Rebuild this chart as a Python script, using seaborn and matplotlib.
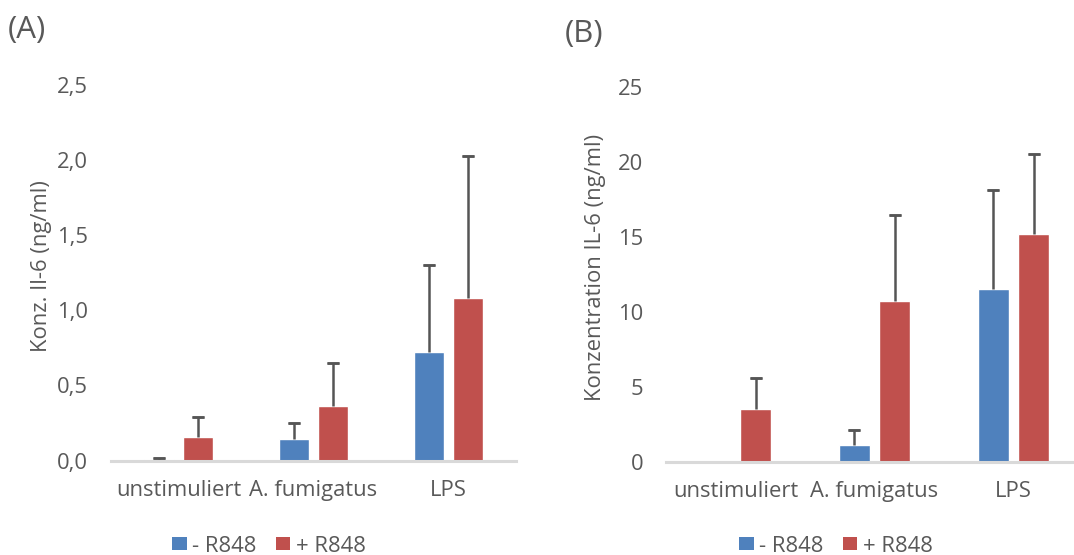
import matplotlib
matplotlib.use("Agg")
import matplotlib.pyplot as plt
from matplotlib.patches import Patch
import seaborn as sns
import pandas as pd

# IL-6 concentrations (mean and upper SD) per stimulus, without / with R848
categories = ["unstimuliert", "A. fumigatus", "LPS"]
groups = ["- R848", "+ R848"]

# Panel A: Konz. Il-6 (ng/ml)
a_minus = [0.01, 0.143, 0.723]
a_minus_err = [0.006, 0.107, 0.58]
a_plus = [0.157, 0.363, 1.083]
a_plus_err = [0.133, 0.287, 0.947]
a_ticks = [0.0, 0.5, 1.0, 1.5, 2.0, 2.5]
a_ticklabels = ["0,0", "0,5", "1,0", "1,5", "2,0", "2,5"]

# Panel B: Konzentration IL-6 (ng/ml)
b_minus = [0.0, 1.13, 11.56]
b_minus_err = [0.0, 1.0, 6.55]
b_plus = [3.54, 10.73, 15.19]
b_plus_err = [2.05, 5.71, 5.33]
b_ticks = [0, 5, 10, 15, 20, 25]
b_ticklabels = ["0", "5", "10", "15", "20", "25"]

BLUE = "#4F81BD"
RED = "#C0504D"
TEXT = "#595959"
ERR = "#555555"
AXIS = "#D9D9D9"

sns.set_theme(style="white")
plt.rcParams["font.family"] = ["Open Sans", "DejaVu Sans"]
plt.rcParams["text.color"] = TEXT
plt.rcParams["axes.labelcolor"] = TEXT
plt.rcParams["xtick.color"] = TEXT
plt.rcParams["ytick.color"] = TEXT

FS = 15.8
W, H = 1074, 555
fig = plt.figure(figsize=(W / 100, H / 100), dpi=100)


def frame(minus, minus_err, plus, plus_err):
    df = pd.DataFrame({
        "Stimulus": categories * 2,
        "R848": [groups[0]] * 3 + [groups[1]] * 3,
        "IL6": list(minus) + list(plus),
    })
    return df, [minus_err, plus_err]


def panel(rect, minus, minus_err, plus, plus_err, ticks, ticklabels, ylabel, label_xy):
    ax = fig.add_axes(rect)
    df, errs = frame(minus, minus_err, plus, plus_err)
    sns.barplot(data=df, x="Stimulus", y="IL6", hue="R848", order=categories,
                hue_order=groups, palette=[BLUE, RED], saturation=1,
                width=0.576, gap=0.225, errorbar=None, legend=False, ax=ax)
    # upper-only error bars: keep just the top cap
    for container, err in zip(ax.containers, errs):
        for bar, e in zip(container, err):
            if e > 0:
                x = bar.get_x() + bar.get_width() / 2
                h = bar.get_height()
                eb = ax.errorbar(x, h, yerr=[[0], [e]], fmt="none",
                                 ecolor=ERR, elinewidth=1.8, capsize=4.3,
                                 capthick=1.8, zorder=3)
                for cap in eb.lines[1]:
                    cap.set_data([x], [h + e])
    ax.set_ylim(ticks[0], ticks[-1])
    ax.set_xlim(-0.5, 2.5)
    ax.set_yticks(ticks)
    ax.set_yticklabels(ticklabels, fontsize=FS, color=TEXT)
    ax.tick_params(axis="x", length=0, pad=14, labelsize=FS, colors=TEXT)
    ax.tick_params(axis="y", length=0, pad=16.5, labelsize=FS, colors=TEXT)
    ax.set_xlabel("")
    ax.set_ylabel(ylabel, fontsize=FS, color=TEXT)
    ax.yaxis.label.set_va("center")
    ax.yaxis.set_label_coords(*label_xy)
    for side in ("top", "right", "left"):
        ax.spines[side].set_visible(False)
    ax.spines["bottom"].set_color(AXIS)
    ax.spines["bottom"].set_linewidth(2.2)
    ax.grid(False)
    return ax


def fx(px):
    return px / W


def fy(py):
    return 1 - py / H


# Panel A
ax_a = panel([fx(111), fy(460.5), fx(516 - 111), (460.5 - 85) / H],
             a_minus, a_minus_err, a_plus, a_plus_err, a_ticks, a_ticklabels,
             "Konz. Il-6 (ng/ml)", (-0.172, 0.518))
# Panel B
ax_b = panel([fx(666), fy(462), fx(1083 - 666), (462 - 87) / H],
             b_minus, b_minus_err, b_plus, b_plus_err, b_ticks, b_ticklabels,
             "Konzentration IL-6 (ng/ml)", (-0.168, 0.52))

fig.text(fx(8), fy(30), "(A)", fontsize=22.5, color=TEXT, ha="left", va="center")
fig.text(fx(565), fy(34), "(B)", fontsize=22.5, color=TEXT, ha="left", va="center")

handles = [Patch(facecolor=BLUE, edgecolor="none"), Patch(facecolor=RED, edgecolor="none")]
for cx in (269, 836):
    fig.legend(handles, groups, loc="center", bbox_to_anchor=(fx(cx), fy(546)),
               ncol=2, frameon=False, fontsize=FS, handlelength=0.64,
               handleheight=0.55, handletextpad=0.25, columnspacing=0.9,
               labelcolor=TEXT, borderpad=0, borderaxespad=0)

fig.savefig("out.png", dpi=100, facecolor="white")
